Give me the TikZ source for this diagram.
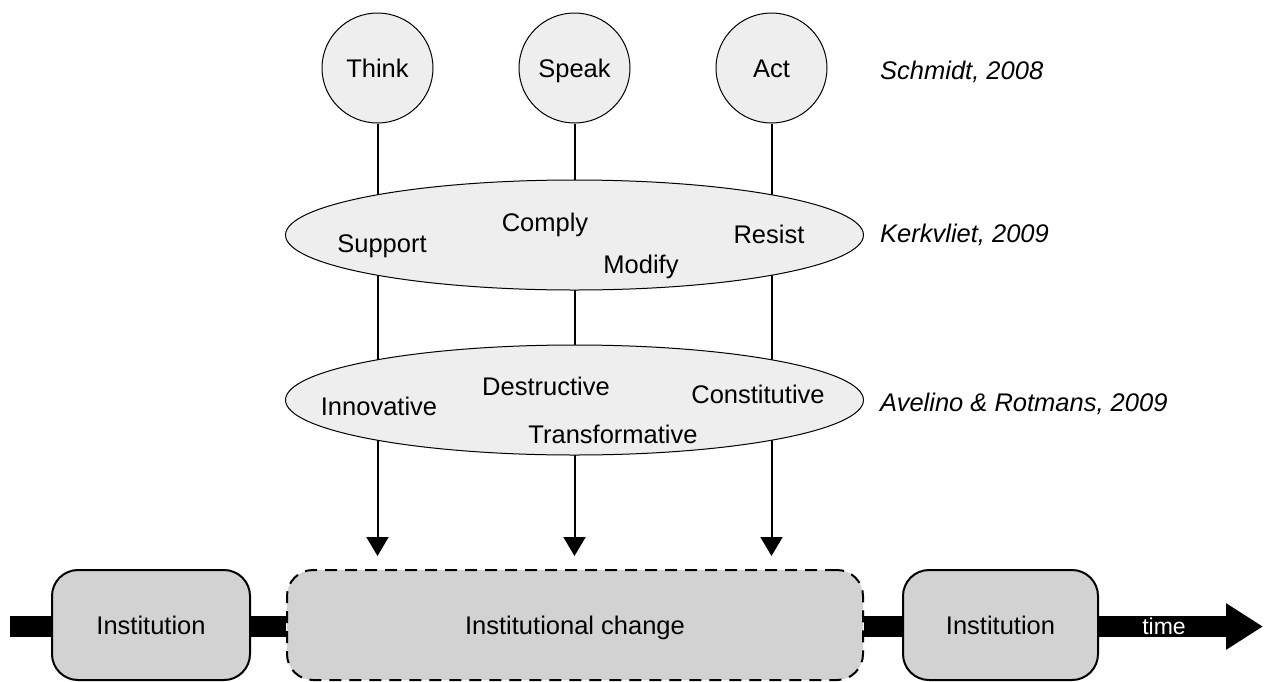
\documentclass[tikz,border=0pt]{standalone}
\usepackage{fontspec}
\setmainfont{Liberation Sans}
\usetikzlibrary{shapes.geometric,arrows.meta,backgrounds}
\definecolor{lightfill}{HTML}{EEEEEE}
\definecolor{boxfill}{HTML}{D2D2D2}
\tikzset{
  txt/.style={font=\fontsize{25.5pt}{30pt}\selectfont, inner sep=0pt, text height=18.5pt, text depth=0pt},
  ref/.style={txt, font=\fontsize{25.5pt}{30pt}\selectfont\itshape, anchor=west},
  bubble/.style={ellipse, draw, line width=1pt, fill=lightfill, minimum width=111pt, minimum height=110pt, inner sep=0pt, txt},
  oval/.style={ellipse, draw, line width=1pt, fill=lightfill, minimum width=578pt, minimum height=110pt, inner sep=0pt},
  stagebox/.style={draw, line width=2pt, fill=boxfill, rounded corners=26pt, minimum height=110pt, inner sep=0pt, txt},
  link/.style={line width=2pt},
  linkarrow/.style={line width=2pt, -{Triangle[width=22pt,length=19pt]}, shorten >=13pt},
  timebar/.style={line width=21pt},
}
\begin{document}
\begin{tikzpicture}[x=1pt,y=-1pt]
\useasboundingbox (0,0) rectangle (1267,681);
% circles
\node[bubble] (think) at (377.5,68) {Think};
\node[bubble] (speak) at (574.5,68) {Speak};
\node[bubble] (act) at (771.5,68) {Act};
% ellipses
\node[oval] (ell1) at (574.5,235) {};
\node[oval] (ell2) at (574.5,400) {};
\node[txt] (support) at (382,243) {Support};
\node[txt] (comply) at (545,222) {Comply};
\node[txt] (modify) at (641,264) {Modify};
\node[txt] (resist) at (769,234) {Resist};
\node[txt] (innov) at (379,406) {Innovative};
\node[txt] (destr) at (546,386) {Destructive};
\node[txt] (const) at (758,394) {Constitutive};
\node[txt] (transf) at (613,434) {Transformative};
% references
\node[ref] (schmidt) at (880,70) {Schmidt, 2008};
\node[ref] (kerk) at (880,233) {Kerkvliet, 2009};
\node[ref] (avel) at (880,402) {Avelino \& Rotmans, 2009};
% bottom stages
\node[stagebox, minimum width=198pt] (inst1) at (151,625) {Institution};
\node[stagebox, minimum width=576pt, dashed, dash pattern=on 12pt off 8pt] (change) at (575,625) {Institutional change};
\node[stagebox, minimum width=195pt] (inst2) at (1000.5,625) {Institution};
\coordinate (tstart) at (10,626.5);
\coordinate (tend) at (1263,626.5);
\begin{scope}[on background layer]
  \fill[white] (0,0) rectangle (1267,681);
  \draw[linkarrow] (think.south) -- (think.south |- change.north);
  \draw[linkarrow] (speak.south) -- (speak.south |- change.north);
  \draw[linkarrow] (act.south) -- (act.south |- change.north);
  \draw[timebar] (tstart) -- (inst1.west |- tstart);
  \draw[timebar] (inst1.east |- tstart) -- (change.west |- tstart);
  \draw[timebar] (change.east |- tstart) -- (inst2.west |- tstart);
  \draw[timebar, -{Triangle[width=44pt,length=37pt]}] (inst2.east |- tstart) -- (tend);
\end{scope}
\node[txt, text=white, font=\fontsize{23pt}{26pt}\selectfont, text height=16.5pt] (time) at (1164,626) {time};
\end{tikzpicture}
\end{document}
